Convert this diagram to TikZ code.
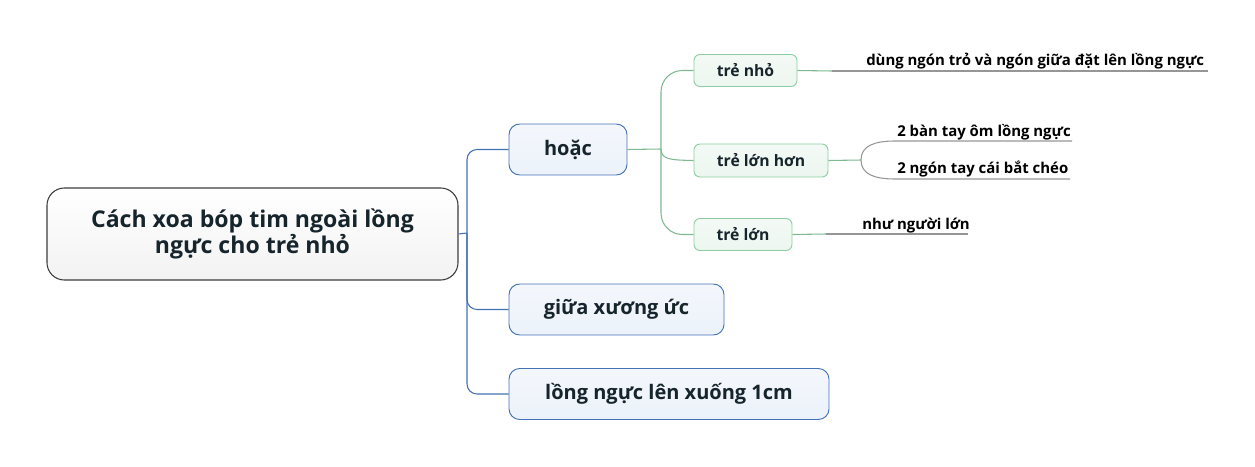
\documentclass[tikz,border=0pt]{standalone}
\usepackage{fontspec}
\setmainfont{Open Sans}
\definecolor{inkdark}{RGB}{22,36,44}
\definecolor{rootline}{RGB}{60,60,60}
\definecolor{blueline}{RGB}{66,114,180}
\definecolor{bluefill}{RGB}{236,242,250}
\definecolor{greenline}{RGB}{140,206,162}
\definecolor{greenfill}{RGB}{236,246,239}
\definecolor{greylink}{RGB}{150,150,150}
\tikzset{
  rootbox/.style={draw=rootline, line width=0.8pt, rounded corners=13pt, top color=white, bottom color=black!5, align=center, text=inkdark, font=\bfseries\fontsize{17.3}{20}\selectfont, inner sep=0pt},
  mainbox/.style={draw=blueline, line width=0.7pt, rounded corners=8pt, top color=bluefill!60!white, bottom color=bluefill, text=inkdark, font=\bfseries\fontsize{15}{18}\selectfont, inner sep=0pt, minimum height=38.25pt},
  subbox/.style={draw=greenline, line width=0.7pt, rounded corners=4.5pt, top color=greenfill!60!white, bottom color=greenfill, text=inkdark, font=\bfseries\fontsize{11.8}{14}\selectfont, inner sep=0pt, minimum height=24pt},
  leaf/.style={anchor=base west, inner sep=0pt, text=black, font=\bfseries\fontsize{11.2}{13}\selectfont},
  bluelink/.style={draw=blueline, line width=0.8pt},
  greenlink/.style={draw=greenline!90!black, line width=0.8pt},
  greylink/.style={draw=greylink, line width=0.8pt}
}
\begin{document}
\begin{tikzpicture}[x=0.75pt,y=0.75pt,yscale=-1,xscale=1]
\useasboundingbox (0,0) rectangle (1255,467);

% Root
\node[rootbox, minimum width=308.25pt, minimum height=69pt] (root) at (252.5,234) {Cách xoa bóp tim ngoài lồng\\ngực cho trẻ nhỏ};

% Main branches
\node[mainbox, minimum width=88.5pt] (hoac) at (568,149.5) {hoặc};
\node[mainbox, minimum width=161.25pt] (giua) at (616.5,309.5) {giữa xương ức};
\node[mainbox, minimum width=240pt] (long) at (669,394) {lồng ngực lên xuống 1cm};

% Sub branches
\node[subbox, minimum width=77.25pt] (trenho) at (745.5,70.5) {trẻ nhỏ};
\node[subbox, minimum width=100.5pt, minimum height=24.75pt] (trelonhon) at (761,160.5) {trẻ lớn hơn};
\node[subbox, minimum width=73.5pt] (trelon) at (743,234.5) {trẻ lớn};

% Leaf texts
\node[leaf] (dung) at (866,65) {dùng ngón trỏ và ngón giữa đặt lên lồng ngực};
\node[leaf] (banTay) at (897,136) {2 bàn tay ôm lồng ngực};
\node[leaf] (ngonTay) at (897,173) {2 ngón tay cái bắt chéo};
\node[leaf] (nhu) at (862,229) {như người lớn};

% Blue connectors
\coordinate (trunk) at (467,233);
\draw[bluelink] (root.east) -- (trunk);
\draw[bluelink, rounded corners=7.5pt] (trunk) |- (hoac.west);
\draw[bluelink, rounded corners=7.5pt] (trunk) |- (giua.west);
\draw[bluelink, rounded corners=7.5pt] (trunk) |- (long.west);

% Green connectors
\coordinate (gtrunk) at (661,149);
\draw[greenlink] (hoac.east) -- (gtrunk);
\draw[greenlink, rounded corners=16pt] (gtrunk) |- (trenho.west);
\draw[greenlink, rounded corners=16pt] (gtrunk) |- (trelon.west);
\draw[greenlink] (gtrunk) .. controls (661,160) and (672,160) .. (trelonhon.west);

% Leaf lines
\coordinate (g1) at (832,71);
\coordinate (e1) at (1208,71);
\draw[greenlink] (trenho.east) -- (g1);
\draw[greylink] (g1) -- (e1);
\coordinate (g2) at (861,160);
\coordinate (e2) at (1072,141);
\coordinate (e3) at (1070,179);
\draw[greenlink] (trelonhon.east) -- (g2);
\draw[greylink] (g2) .. controls (861,146) and (874,141) .. (895,141) -- (e2);
\draw[greylink] (g2) .. controls (861,174) and (874,179) .. (895,179) -- (e3);
\coordinate (g3) at (826,234);
\coordinate (e4) at (968,234);
\draw[greenlink] (trelon.east) -- (g3);
\draw[greylink] (g3) -- (e4);

\end{tikzpicture}
\end{document}
